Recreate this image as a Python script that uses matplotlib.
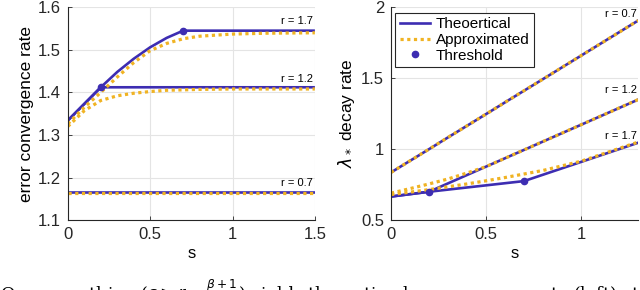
import numpy as np
import matplotlib
matplotlib.use("Agg")
import matplotlib.pyplot as plt

plt.rcParams['font.family'] = ['Liberation Sans', 'DejaVu Sans']

# ── data ──────────────────────────────────────────────────────────────────
# left panel : error convergence rate vs s
s_left = [0, 0.1, 0.2, 0.3, 0.4, 0.5, 0.6, 0.7, 0.8, 1.0, 1.2, 1.5]
err_theo_07 = [1.167] * len(s_left)
err_appr_07 = [1.163] * len(s_left)
err_theo_12 = [1.334, 1.373, 1.412, 1.412, 1.412, 1.412, 1.412, 1.412, 1.412, 1.412, 1.412, 1.412]
err_appr_12 = [1.320, 1.357, 1.381, 1.392, 1.398, 1.402, 1.405, 1.406, 1.407, 1.408, 1.408, 1.408]
err_theo_17 = [1.334, 1.373, 1.412, 1.448, 1.479, 1.506, 1.528, 1.545, 1.545, 1.545, 1.545, 1.545]
err_appr_17 = [1.326, 1.365, 1.400, 1.436, 1.470, 1.498, 1.515, 1.526, 1.532, 1.537, 1.539, 1.540]

# right panel : lambda_* decay rate vs s
s_right = [0, 0.1, 0.2, 0.3, 0.4, 0.5, 0.6, 0.7, 0.8, 1.0, 1.3]
lam_theo_07 = [0.836, 0.918, 1.000, 1.083, 1.165, 1.247, 1.330, 1.412, 1.494, 1.659, 1.906]
lam_appr_07 = [0.836, 0.918, 1.000, 1.083, 1.165, 1.247, 1.330, 1.412, 1.494, 1.659, 1.906]
lam_theo_12 = [0.666, 0.683, 0.700, 0.759, 0.818, 0.877, 0.936, 0.995, 1.054, 1.172, 1.349]
lam_appr_12 = [0.690, 0.722, 0.755, 0.790, 0.832, 0.877, 0.936, 0.995, 1.054, 1.172, 1.349]
lam_theo_17 = [0.666, 0.683, 0.700, 0.715, 0.730, 0.745, 0.760, 0.775, 0.820, 0.910, 1.045]
lam_appr_17 = [0.680, 0.697, 0.715, 0.735, 0.755, 0.777, 0.800, 0.825, 0.850, 0.915, 1.050]

thr_s = [0.2, 0.7]
thr_err = [1.412, 1.545]
thr_lam = [0.700, 0.775]

labels_left = [("r = 1.7", 1.567), ("r = 1.2", 1.432), ("r = 0.7", 1.187)]
labels_right = [("r = 0.7", 1.95), ("r = 1.2", 1.42), ("r = 1.7", 1.09)]

# ── style ─────────────────────────────────────────────────────────────────
c_theo = '#3d2db2'
c_appr = '#f0b323'
grid_c = '#e4e4e4'


def style_axes(ax):
    ax.grid(True, color=grid_c, lw=0.8)
    ax.set_axisbelow(True)
    for side in ['top', 'right']:
        ax.spines[side].set_visible(False)
    for side in ['left', 'bottom']:
        ax.spines[side].set_color('#262626')
        ax.spines[side].set_linewidth(0.8)
    ax.tick_params(direction='in', length=3, width=0.6, labelsize=12,
                   colors='#262626', pad=5)


fig = plt.figure(figsize=(6.4, 2.9), dpi=100)

# ── left panel ─────────────────────────────────────────────────────────────
ax1 = fig.add_axes([0.106, 0.241, 0.386, 0.734])
for th in [err_theo_07, err_theo_12, err_theo_17]:
    ax1.plot(s_left, th, color=c_theo, lw=1.9, solid_capstyle='butt')
for ap in [err_appr_07, err_appr_12, err_appr_17]:
    ax1.plot(s_left, ap, color=c_appr, lw=2.3, ls=(0, (1, 1.1)))
ax1.plot(thr_s, thr_err, 'o', color=c_theo, ms=4.5, zorder=5)
for txt, y in labels_left:
    ax1.text(1.49, y, txt, ha='right', va='center', fontsize=8)
ax1.set_xlim(0, 1.5)
ax1.set_ylim(1.1, 1.6)
ax1.set_xticks([0, 0.5, 1, 1.5])
ax1.set_xticklabels(['0', '0.5', '1', '1.5'])
ax1.set_yticks([1.1, 1.2, 1.3, 1.4, 1.5, 1.6])
ax1.set_xlabel('s', fontsize=12, labelpad=3)
ax1.set_ylabel('error convergence rate', fontsize=12.5, labelpad=3)
style_axes(ax1)

# ── right panel ────────────────────────────────────────────────────────────
ax2 = fig.add_axes([0.611, 0.241, 0.386, 0.734])
theo_lines = [lam_theo_07, lam_theo_12, lam_theo_17]
appr_lines = [lam_appr_07, lam_appr_12, lam_appr_17]
for k, th in enumerate(theo_lines):
    ax2.plot(s_right, th, color=c_theo, lw=1.9, label='Theoertical' if k == 0 else None)
for k, ap in enumerate(appr_lines):
    ax2.plot(s_right, ap, color=c_appr, lw=2.3, ls=(0, (1, 1.1)),
             label='Approximated' if k == 0 else None)
ax2.plot(thr_s, thr_lam, 'o', color=c_theo, ms=4.5, zorder=5, label='Threshold')
for txt, y in labels_right:
    ax2.text(1.295, y, txt, ha='right', va='center', fontsize=8)
ax2.set_xlim(0, 1.3)
ax2.set_ylim(0.5, 2)
ax2.set_xticks([0, 0.5, 1])
ax2.set_xticklabels(['0', '0.5', '1'])
ax2.set_yticks([0.5, 1, 1.5, 2])
ax2.set_yticklabels(['0.5', '1', '1.5', '2'])
ax2.set_xlabel('s', fontsize=12, labelpad=3)
ax2.set_ylabel(r'$\lambda_*$ decay rate', fontsize=12.5, labelpad=3)
style_axes(ax2)
leg = ax2.legend(loc='upper left', fontsize=11, frameon=True, fancybox=False,
                 edgecolor='#262626', framealpha=1, handlelength=2.0,
                 borderpad=0.3, labelspacing=0.12, handletextpad=0.35,
                 borderaxespad=0, bbox_to_anchor=(0.016, 0.975))
leg.get_frame().set_linewidth(0.8)

# cropped caption line at the very bottom (cut off in the reference as well)
fig.text(0.0, -0.012, r"Oversmoothing ($s > r - \frac{\beta+1}{2}$) yields the optimal convergence rate (left) at the",
         fontsize=12.5, family='DejaVu Serif', va='center', ha='left')

fig.savefig('out.png', dpi=100)
